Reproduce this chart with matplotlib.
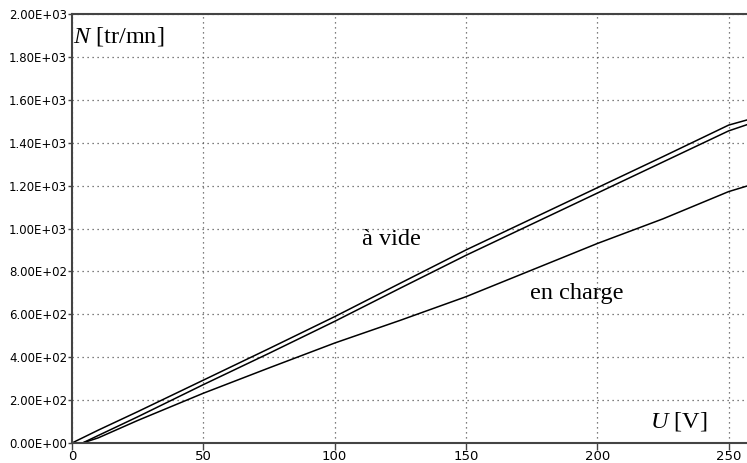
import matplotlib
matplotlib.use("Agg")
import matplotlib.pyplot as plt
from matplotlib.ticker import FormatStrFormatter

# tension U [V] et vitesse N [tr/mn]
u_vide1 = [0, 10, 25, 50, 75, 100, 125, 150, 175, 200, 225, 250, 257]
n_vide1 = [0, 60, 146, 293, 440, 589, 745, 900, 1045, 1190, 1335, 1482, 1506]

u_vide2 = [4, 10, 25, 50, 75, 100, 125, 150, 175, 200, 225, 250, 257]
n_vide2 = [0, 35, 122, 272, 418, 567, 722, 875, 1020, 1165, 1310, 1455, 1484]

u_charge = [4, 10, 25, 50, 75, 100, 125, 150, 175, 200, 225, 250, 257]
n_charge = [0, 24, 105, 232, 350, 466, 572, 682, 806, 930, 1045, 1172, 1198]

plt.rcParams["mathtext.fontset"] = "custom"
plt.rcParams["mathtext.rm"] = "Liberation Serif"
plt.rcParams["mathtext.it"] = "Liberation Serif:italic"

fig = plt.figure(figsize=(7.47, 4.63), dpi=100)
ax = fig.add_axes([72 / 747, 20 / 463, 675 / 747, 429 / 463])

ax.plot(u_vide1, n_vide1, color="black", lw=1.1)
ax.plot(u_vide2, n_vide2, color="black", lw=1.1)
ax.plot(u_charge, n_charge, color="black", lw=1.1)

ax.set_xlim(0, 257)
ax.set_ylim(0, 2000)
ax.set_xticks([0, 50, 100, 150, 200, 250])
ax.set_yticks(range(0, 2001, 200))
ax.yaxis.set_major_formatter(FormatStrFormatter("%.2E"))
ax.grid(True, linestyle=(0, (1, 3)), color="#555555", lw=0.9)

for s in ["left", "bottom", "top"]:
    ax.spines[s].set_color("#444444")
    ax.spines[s].set_linewidth(1.5)
ax.spines["right"].set_visible(False)
ax.tick_params(axis="y", direction="out", length=3, width=1, color="#444444",
               labelsize=8.5, pad=0.5)
ax.tick_params(axis="x", direction="out", length=5, width=1, color="#444444",
               labelsize=9.5, pad=0)

serif = "Liberation Serif"
ax.text(0.4, 1897, r"$\mathit{N}$ [tr/mn]", fontsize=17.5, family=serif,
        va="center", ha="left")
ax.text(121.7, 951, "à vide", fontsize=17.5, family=serif,
        ha="center", va="center")
ax.text(192, 699, "en charge", fontsize=17.5, family=serif,
        ha="center", va="center")
ax.text(220.2, 99, r"$\mathit{U}$ [V]", fontsize=17.5, family=serif,
        ha="left", va="center")

fig.savefig("out.png", dpi=100)
